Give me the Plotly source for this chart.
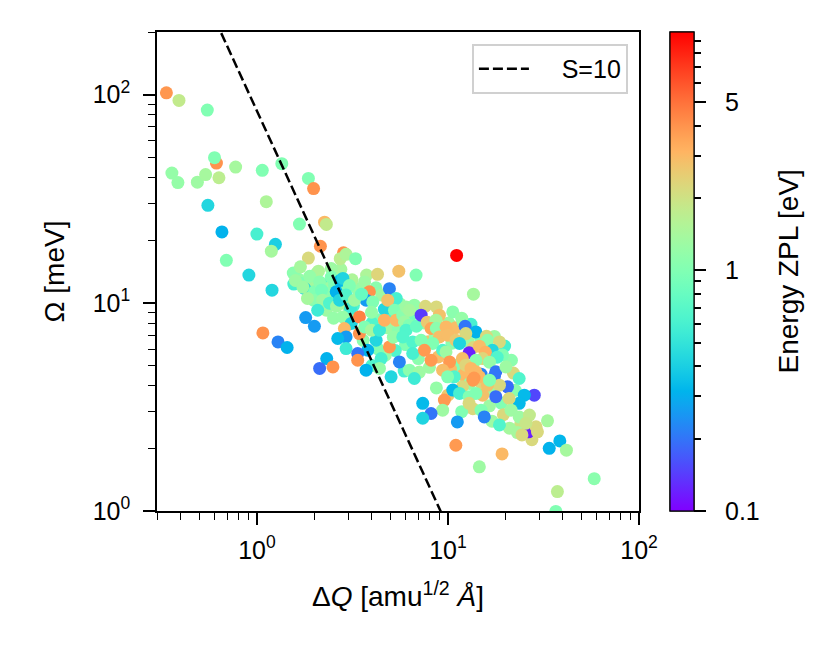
import numpy as np
import plotly.graph_objects as go

# ---- data ----
# (first block: points hidden in the dense core, second block: clearly visible points)
dq = [1.65, 1.72, 1.95, 2.05, 2.25, 2.4, 2.55, 2.2, 2.5, 2.85, 2.9, 3.2, 3.35, 3.15, 2.75,
      2.45, 2.1, 1.55, 4.2, 4.5, 4.9, 5.6, 5.2, 4.3, 4.0, 4.8, 5.5, 6.3, 7.0, 7.5, 6.0, 5.3,
      4.7, 7.0, 7.9, 8.6, 8.9, 8.0, 5.9, 4.3, 3.6, 4.0, 10.1, 11.0, 12.0, 13.2, 10.5, 12.8,
      13.6, 14.8, 17.5, 19.8, 21.5, 22.0, 11.0, 12.0, 10.3, 13.0, 15.0, 17.0, 19.0, 16.5,
      13.5, 11.8, 10.0, 8.7, 22.5, 19.5, 17.0, 24.0, 21.0, 27.5,
      26.4, 0.336, 0.391, 0.55, 0.614, 0.60, 0.774, 0.359, 0.386, 0.488, 0.539, 0.633,
      1.067, 1.35, 1.86, 1.98, 1.12, 0.554, 0.656, 1.0, 1.25, 1.19, 1.67, 2.26, 2.31,
      2.15, 0.692, 0.908, 1.86, 1.69, 2.84, 2.73, 2.93, 3.28, 3.75, 4.28, 5.53, 6.81,
      13.6, 1.20, 1.56, 1.59, 1.89, 1.78, 1.74, 2.0, 2.13, 2.45, 2.73, 2.82, 2.35, 2.60,
      1.98, 2.18, 1.84, 2.21, 2.31, 2.08, 2.40, 2.61, 2.52, 2.71, 1.80, 2.0, 1.075, 1.29,
      1.44, 2.32, 2.13, 2.50, 3.05, 2.93, 3.05, 3.09, 2.82, 3.12, 3.44, 2.87, 2.93, 2.65,
      2.93, 3.44, 3.66, 3.80, 3.37, 3.37, 3.73, 4.21, 4.47, 4.38, 4.94, 5.04, 3.66, 3.88,
      3.73, 4.04, 3.24, 3.53, 3.98, 4.65, 3.98, 4.38, 4.65, 4.94, 5.36, 4.84, 5.25, 5.36,
      5.18, 5.80, 6.04, 6.67, 5.92, 6.28, 6.04, 6.84, 5.80, 6.54, 7.24, 5.57, 6.54, 6.28,
      7.09, 6.67, 7.62, 6.28, 7.24, 7.80, 8.70, 9.02, 8.66, 10.6, 11.8, 12.3, 14.0, 15.9,
      16.1, 18.6, 8.16, 8.70, 9.77, 9.02, 9.96, 12.4, 11.0, 8.32, 9.38, 9.77, 12.9, 11.5,
      17.1, 19.3, 14.6, 15.7, 18.1, 15.2, 16.5, 14.0, 7.53, 8.16, 10.2, 11.9, 12.4, 13.2,
      14.9, 17.5, 14.0, 14.6, 13.7, 17.8, 20.1, 23.6, 20.5, 18.6, 28.3, 25.1, 23.6, 20.9,
      17.8, 15.2, 16.1, 16.5, 13.5, 9.38, 10.8, 9.96, 11.9, 10.6, 11.5, 12.9, 14.0, 9.58,
      12.9, 9.38, 7.38, 8.16, 7.38, 11.2, 14.9, 15.5, 18.6, 21.4, 23.6, 26.7, 33.2, 28.9,
      25.6, 29.4, 23.1, 24.4, 38.5, 33.9, 41.7, 19.2, 14.6, 58.3, 37.4, 36.7, 11.0, 11.1]

omega = [13.0, 12.4, 12.0, 13.8, 12.2, 11.8, 12.2, 10.8, 10.6, 11.6, 9.9, 9.7, 11.7, 12.9, 14.5,
         14.6, 14.2, 13.9, 11.8, 10.9, 9.8, 9.9, 8.6, 8.3, 8.0, 7.6, 7.4, 8.5, 9.2, 8.0, 6.3, 5.9,
         5.6, 5.4, 6.5, 6.9, 5.5, 4.9, 4.7, 6.0, 6.6, 5.0, 8.0, 7.6, 8.1, 7.9, 6.4, 6.5,
         6.1, 6.8, 6.9, 6.2, 5.3, 4.6, 5.0, 4.5, 4.8, 4.1, 4.1, 3.8, 3.3, 3.2,
         3.1, 3.0, 3.6, 3.9, 3.8, 2.9, 2.7, 2.6, 2.5, 2.2,
         2.40, 102, 93.8, 84.3, 46.9, 49.8, 44.9, 42.0, 37.8, 38.0, 41.3, 39.9,
         43.3, 46.6, 39.6, 35.4, 30.6, 29.4, 21.9, 21.4, 19.1, 17.7, 23.9, 24.4, 23.8,
         18.7, 16.0, 13.6, 16.4, 14.9, 17.4, 16.3, 17.1, 16.3, 13.6, 13.7, 14.2, 13.6,
         11.0, 11.5, 12.3, 12.8, 13.4, 11.7, 11.9, 11.3, 12.6, 13.3, 12.8, 13.1, 11.1, 11.3,
         10.3, 11.5, 10.5, 10.3, 9.21, 9.21, 9.96, 9.63, 8.44, 10.3, 8.50, 7.72, 7.17, 6.49,
         6.10, 5.40, 4.84, 4.92, 12.1, 10.9, 9.04, 9.39, 8.56, 7.96, 8.56, 7.53, 6.86, 6.74,
         6.03, 7.12, 7.66, 5.92, 5.71, 5.30, 4.75, 6.61, 5.40, 4.84, 6.14, 4.41, 12.6, 11.3,
         10.3, 10.1, 10.3, 11.0, 9.01, 9.32, 7.39, 7.39, 8.25, 11.7, 10.5, 10.3, 9.21, 8.25,
         6.84, 8.72, 9.56, 9.74, 8.10, 7.81, 7.39, 7.72, 6.86, 6.49, 6.61, 5.20, 5.71, 4.75,
         4.65, 4.33, 9.63, 9.21, 8.72, 8.07, 9.56, 8.72, 8.25, 9.04, 8.44, 7.72, 7.25, 6.91,
         6.61, 6.49, 7.53, 7.55, 7.66, 6.86, 6.99, 7.12, 6.61, 6.38, 5.92, 5.81, 5.75, 6.38,
         5.92, 5.61, 6.19, 5.79, 5.48, 5.40, 5.19, 5.30, 5.92, 5.30, 5.20, 5.40, 5.02, 4.84,
         4.54, 4.44, 4.66, 4.41, 4.35, 4.66, 4.92, 4.33, 3.95, 4.02, 3.60, 3.60, 3.29, 3.47,
         3.54, 3.60, 4.02, 4.25, 4.25, 4.75, 4.41, 4.41, 3.95, 3.81, 3.67, 3.54, 3.67, 3.41,
         3.29, 3.05, 3.29, 2.94, 2.79, 2.68, 3.05, 2.83, 2.59, 3.05, 2.83, 2.89, 2.71, 2.54,
         2.64, 2.40, 2.38, 2.32, 2.17, 2.00, 1.96, 1.88, 1.63, 1.43, 1.24, 0.995, 2.07, 16.9]

e_zpl = [1.2, 1.0, 1.4, 1.1, 0.6, 1.3, 1.0, 1.0, 0.9, 1.1, 1.4, 0.65, 1.2, 1.5, 1.4,
         1.3, 1.5, 1.1, 1.1, 1.3, 1.0, 1.2, 0.65, 1.0, 0.65, 1.3, 1.1, 0.9, 1.3, 1.2, 1.0, 0.65,
         1.2, 1.1, 2.6, 1.2, 2.9, 1.3, 0.6, 1.0, 1.1, 0.65, 1.3, 2.9, 1.1, 0.6, 1.1, 1.3,
         2.2, 1.0, 1.3, 0.6, 1.1, 2.2, 1.0, 3.0, 2.9, 1.2, 2.3, 1.3, 1.0, 1.3,
         2.2, 1.0, 2.6, 1.2, 1.1, 2.2, 1.3, 2.0, 1.4, 2.2,
         0.12, 3.9, 1.8, 1.0, 4.0, 1.0, 1.4, 1.2, 1.2, 1.3, 1.4, 1.7,
         1.0, 1.0, 1.0, 4.0, 1.5, 0.43, 0.31, 0.6, 0.40, 1.4, 1.0, 3.0, 1.8,
         4.0, 1.0, 0.43, 2.2, 1.4, 4.0, 1.7, 1.5, 1.0, 1.5, 2.3, 2.8, 1.0,
         1.4, 0.43, 0.6, 1.3, 1.2, 0.42, 1.3, 1.0, 1.1, 1.0, 0.33, 0.42, 1.1, 0.31,
         1.1, 0.9, 1.4, 1.3, 1.3, 0.55, 0.65, 1.3, 1.2, 0.43, 0.26, 0.26, 4.0, 0.22,
         0.31, 0.31, 0.19, 4.0, 1.0, 0.65, 1.0, 0.55, 1.2, 0.42, 4.5, 3.0, 0.26, 0.33,
         0.55, 4.0, 1.0, 0.31, 0.2, 4.0, 0.31, 0.43, 0.6, 1.2, 3.8, 0.43, 1.3, 4.0,
         0.26, 1.0, 1.3, 0.8, 1.2, 0.43, 1.4, 0.55, 3.2, 0.22, 0.6, 2.8, 1.0, 3.0,
         1.2, 1.1, 1.3, 1.2, 1.3, 1.0, 0.65, 0.8, 0.65, 0.65, 1.0, 0.22, 0.6, 1.1,
         1.3, 0.55, 2.2, 1.4, 0.14, 2.6, 2.2, 2.8, 1.4, 1.1, 1.2, 0.2, 0.31, 2.2,
         1.1, 2.2, 3.5, 1.1, 3.0, 2.9, 2.9, 2.2, 2.6, 1.0, 0.65, 1.3, 0.12, 0.42,
         0.43, 1.0, 2.9, 3.2, 0.65, 2.3, 1.2, 1.1, 3.8, 3.8, 3.8, 2.9, 2.3, 3.0,
         0.22, 0.2, 3.0, 3.0, 3.8, 0.2, 1.3, 0.65, 0.19, 2.2, 0.15, 0.33, 0.33, 2.2,
         0.19, 2.8, 2.8, 1.0, 3.8, 2.9, 0.65, 1.0, 2.2, 0.33, 0.6, 1.0, 1.0, 3.8,
         2.2, 1.3, 0.33, 0.2, 0.42, 0.26, 1.0, 0.22, 0.65, 1.3, 1.3, 1.8, 1.4, 2.2,
         1.9, 2.2, 1.4, 2.2, 0.32, 0.31, 1.4, 3.0, 1.3, 1.1, 1.7, 1.0, 3.8, 9.8]

S_value = 10
hbar2_meV = 4.1804  # hbar^2 / (amu * Angstrom^2) expressed in meV

x_tick_vals = [1, 10, 100]
x_tick_text = ["10<sup>0</sup>", "10<sup>1</sup>", "10<sup>2</sup>"]
y_tick_vals = [1, 10, 100]
y_tick_text = ["10<sup>0</sup>", "10<sup>1</sup>", "10<sup>2</sup>"]
cb_major = [0.1, 1, 5]
cb_major_text = ["0.1", "1", "5"]
cb_minor = [0.2, 0.3, 0.4, 0.5, 0.6, 0.7, 0.8, 0.9, 2, 3, 4, 6, 7, 8, 9]

x_range = (0.3, 100)
y_range = (1, 200)
e_min = 0.1

# ---- helpers ----
def minor_ticks(lo, hi):
    out = []
    for k in range(int(np.floor(np.log10(lo))), int(np.ceil(np.log10(hi))) + 1):
        for m in range(2, 10):
            v = m * 10.0 ** k
            if lo <= v <= hi:
                out.append(v)
    return out

# matplotlib "rainbow" colormap
stops = []
for f in np.linspace(0, 1, 41):
    r = min(1.0, abs(2 * f - 0.5))
    g = max(0.0, np.sin(np.pi * f))
    b = max(0.0, np.cos(np.pi * f / 2))
    stops.append([float(f), f"rgb({round(r*255)},{round(g*255)},{round(b*255)})"])

cvals = np.log10(np.array(e_zpl))
cmin = np.log10(e_min)
cmax = float(np.log10(max(e_zpl)))

FONT = "Liberation Sans, Arial, sans-serif"
TICK_SIZE = 25
TITLE_SIZE = 28

x_line = np.logspace(np.log10(x_range[0]), np.log10(x_range[1]), 300)
y_line = 2 * S_value * hbar2_meV / x_line ** 2

fig = go.Figure()

cb_common = dict(x=1.064, xanchor="left", xpad=0, y=0.5, yanchor="middle", ypad=0,
                 len=1.0, lenmode="fraction", thickness=24, thicknessmode="pixels",
                 outlinewidth=1.2, outlinecolor="black", ticks="outside",
                 tickcolor="black", tickwidth=1.5)

# minor colorbar ticks (invisible markers, colorbar only)
fig.add_trace(go.Scatter(
    x=dq, y=omega, mode="markers", hoverinfo="skip", showlegend=False,
    marker=dict(size=13, opacity=0, color=cvals, colorscale=stops, cmin=cmin, cmax=cmax,
                showscale=True,
                colorbar=dict(**cb_common, tickmode="array",
                              tickvals=list(np.log10(cb_minor)),
                              showticklabels=False, ticklen=7))))

fig.add_trace(go.Scatter(
    x=dq, y=omega, mode="markers", showlegend=False,
    marker=dict(size=13, color=cvals, colorscale=stops, cmin=cmin, cmax=cmax,
                line=dict(width=0), showscale=True,
                colorbar=dict(**cb_common, tickmode="array",
                              tickvals=list(np.log10(cb_major)),
                              ticktext=["\u00a0\u00a0" + t for t in cb_major_text],
                              ticklen=12,
                              tickfont=dict(size=TICK_SIZE, family=FONT, color="black")))))

fig.add_trace(go.Scatter(
    x=x_line, y=y_line, mode="lines", name="\u00a0\u00a0\u00a0\u00a0" + f"S={S_value}",
    line=dict(color="black", width=2.5, dash="10px,4px")))

axis_common = dict(type="log", showgrid=False, zeroline=False, showline=True,
                   linecolor="black", linewidth=1.5, mirror=True,
                   ticks="outside", ticklen=12, tickwidth=1.5, tickcolor="black",
                   tickmode="array", tickfont=dict(size=TICK_SIZE, family=FONT, color="black"))

fig.update_layout(
    width=824, height=657,
    margin=dict(l=149, r=193, t=24, b=154),
    paper_bgcolor="white", plot_bgcolor="white",
    font=dict(family=FONT, color="black"),
    xaxis=dict(**axis_common, range=[np.log10(x_range[0]), np.log10(x_range[1])],
               tickvals=x_tick_vals, ticktext=x_tick_text, ticklabelstandoff=4,
               minor=dict(tickmode="array", tickvals=minor_ticks(*x_range), ticks="outside",
                          ticklen=7, tickwidth=1.2, tickcolor="black"),
               title=dict(text="Δ<i>Q</i> [amu<sup>1/2</sup> <i>Å</i>]",
                          font=dict(size=TITLE_SIZE, family=FONT), standoff=24)),
    yaxis=dict(**axis_common, range=[np.log10(y_range[0]), np.log10(y_range[1])],
               tickvals=y_tick_vals, ticktext=y_tick_text, ticklabelstandoff=8,
               minor=dict(tickmode="array", tickvals=minor_ticks(*y_range), ticks="outside",
                          ticklen=7, tickwidth=1.2, tickcolor="black"),
               title=dict(text="Ω [meV]", font=dict(size=TITLE_SIZE, family=FONT), standoff=20)),
    legend=dict(x=0.977, xanchor="right", y=0.975, yanchor="top",
                bgcolor="white", bordercolor="#d0d0d0", borderwidth=2,
                font=dict(size=TICK_SIZE, family=FONT), itemwidth=50),
    annotations=[dict(text="Energy ZPL [eV]", xref="paper", yref="paper",
                      x=(780 - 149) / 482, y=0.5, xanchor="center", yanchor="middle",
                      textangle=-90, showarrow=False,
                      font=dict(size=TITLE_SIZE, family=FONT, color="black"))],
)

fig.write_html("out.html")
